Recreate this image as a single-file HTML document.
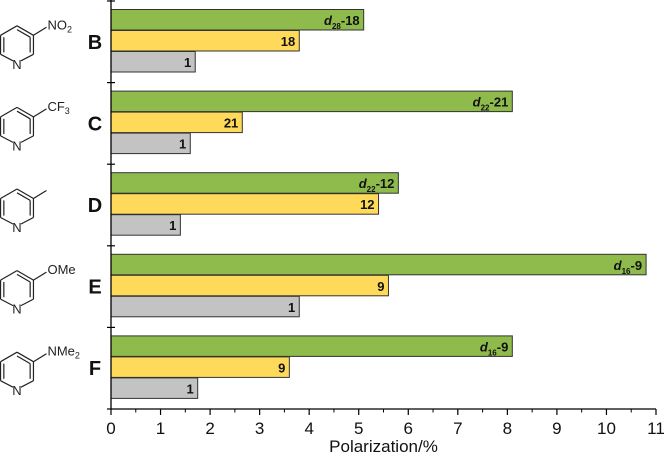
<!DOCTYPE html>
<html><head><meta charset="utf-8"><style>
body{margin:0;background:#fff;}
svg{display:block;font-family:"Liberation Sans",Arial,sans-serif;}
</style></head><body>
<svg id="chart" width="664" height="459"></svg>
<script>
const categories=["B","C","D","E","F"];
const substituents=["NO2","CF3","CH3","OMe","NMe2"];
const greenValues=[5.1,8.1,5.8,10.8,8.1];
const yellowValues=[3.8,2.65,5.4,5.6,3.6];
const grayValues=[1.7,1.6,1.4,3.8,1.75];
const greenSub=["28","22","22","16","16"];
const greenNum=["18","21","12","9","9"];
const yellowLabels=["18","21","12","9","9"];
const grayLabels=["1","1","1","1","1"];
const xTicks=[0,1,2,3,4,5,6,7,8,9,10,11];

const NS="http://www.w3.org/2000/svg";
const svg=document.getElementById('chart');
const x0=111,x1=656,yTop=1,yBot=409;
const xs=v=>x0+(x1-x0)*v/11;
const gH=(yBot-yTop)/categories.length;
function mk(t,a,p){const e=document.createElementNS(NS,t);for(const k in a)e.setAttribute(k,a[k]);(p||svg).appendChild(e);return e;}

categories.forEach((c,i)=>{
  const gt=yTop+i*gH;
  const series=[[greenValues[i],'#8fba4c','green'],[yellowValues[i],'#ffd95a','yellow'],[grayValues[i],'#c3c3c3','gray']];
  series.forEach((s,j)=>{
    const y=gt+8.5+j*21;
    const r=mk('rect',{x:x0,y:y,width:xs(s[0])-x0,height:20.5,fill:s[1],stroke:'#333','stroke-width':1});
    
    
    const t=mk('text',{x:xs(s[0])-4,y:y+15.5,'text-anchor':'end','font-size':13,'font-weight':'bold',fill:'#111'});
    
    
    if(j===0){
      const a=document.createElementNS(NS,'tspan');a.setAttribute('font-style','italic');a.textContent='d';t.appendChild(a);
      const b=document.createElementNS(NS,'tspan');b.setAttribute('font-size',8);b.setAttribute('dy',4);b.textContent=greenSub[i];t.appendChild(b);
      const d=document.createElementNS(NS,'tspan');d.setAttribute('dy',-4);d.textContent='-'+greenNum[i];t.appendChild(d);
    } else t.textContent=j===1?yellowLabels[i]:grayLabels[i];
  });
  const cl=mk('text',{x:95,y:gt+gH/2+7,'text-anchor':'middle','font-size':20,'font-weight':'bold',fill:'#111'});
  cl.textContent=c;
  
  
  const cx=17,cy=gt+gH/2+3,R=19;
  const g=mk('g',{stroke:'#222','stroke-width':1.2,fill:'none'});
  
  
  const pts=[];for(let k=0;k<6;k++){const a=-Math.PI/2+k*Math.PI/3;pts.push([cx+R*Math.cos(a),cy+R*Math.sin(a)]);}
  for(let k=0;k<6;k++){const p=pts[k],q=pts[(k+1)%6];
    if(k===2||k===3){continue;}
    mk('line',{x1:p[0],y1:p[1],x2:q[0],y2:q[1]},g);}
  mk('line',{x1:pts[2][0],y1:pts[2][1],x2:pts[3][0]+4,y2:pts[3][1]-3},g);
  mk('line',{x1:pts[4][0],y1:pts[4][1],x2:pts[3][0]-4,y2:pts[3][1]-3},g);
  const inner=(a,b)=>{const ix=(p)=>[cx+(p[0]-cx)*0.8,cy+(p[1]-cy)*0.8];const p=ix(pts[a]),q=ix(pts[b]);mk('line',{x1:p[0],y1:p[1],x2:q[0],y2:q[1]},g);};
  inner(0,1);inner(4,5);inner(1,2);
  const nt=mk('text',{x:pts[3][0],y:pts[3][1]+5,'text-anchor':'middle','font-size':13,fill:'#222',stroke:'none'},g);nt.textContent='N';
  mk('line',{x1:pts[1][0],y1:pts[1][1],x2:pts[1][0]+13,y2:pts[1][1]-8},g);
  const sx=pts[1][0]+14,sy=pts[1][1]-6;
  const st=mk('text',{x:sx,y:sy,'font-size':13,fill:'#222',stroke:'none'},g);
  const sub=substituents[i];
  if(sub==='NO2'){st.innerHTML='NO<tspan font-size="9" dy="3">2</tspan>';}
  else if(sub==='CF3'){st.innerHTML='CF<tspan font-size="9" dy="3">3</tspan>';}
  else if(sub==='OMe'){st.textContent='OMe';}
  else if(sub==='NMe2'){st.innerHTML='NMe<tspan font-size="9" dy="3">2</tspan>';}
  const gy=yTop+i*gH;
  mk('line',{x1:x0-4,y1:gy,x2:x0+4,y2:gy,stroke:'#000','stroke-width':1.2});
});
const ya=mk('line',{x1:x0,y1:yTop-1,x2:x0,y2:yBot,stroke:'#000','stroke-width':1.3});

const xa=mk('line',{x1:x0,y1:yBot,x2:x1,y2:yBot,stroke:'#000','stroke-width':1.3});

mk('line',{x1:x0-4,y1:yBot,x2:x0,y2:yBot,stroke:'#000','stroke-width':1.2});
xTicks.forEach(v=>{
  mk('line',{x1:xs(v),y1:yBot,x2:xs(v),y2:yBot+6,stroke:'#000','stroke-width':1.2});
  if(v<11) mk('line',{x1:xs(v+0.5),y1:yBot,x2:xs(v+0.5),y2:yBot+3.5,stroke:'#000','stroke-width':1});
  const t=mk('text',{x:xs(v),y:yBot+25,'text-anchor':'middle','font-size':17,fill:'#111'});
  t.textContent=v;
  
  
});
const xt=mk('text',{x:(x0+x1)/2,y:452,'text-anchor':'middle','font-size':17,fill:'#111'});
xt.textContent='Polarization/%';


</script>
</body></html>
